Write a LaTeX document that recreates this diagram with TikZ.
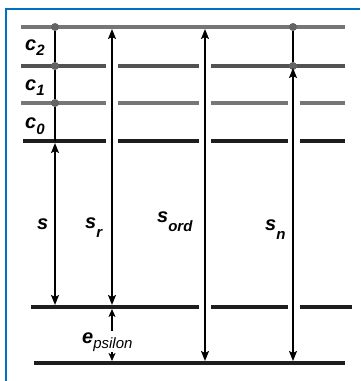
\documentclass[tikz,border=0pt]{standalone}
\usepackage{fontspec}
\setmainfont{Liberation Sans}
\usetikzlibrary{arrows.meta, positioning}
\definecolor{frameblue}{RGB}{0,112,192}
\definecolor{levelgray}{RGB}{118,118,118}
\definecolor{leveldark}{RGB}{82,82,82}
\definecolor{levelblack}{RGB}{30,30,30}
\definecolor{dotgray}{RGB}{100,100,100}
\newcommand{\lowsub}[2]{\raisebox{-#1}{\fontsize{15}{15}\selectfont #2}}

\begin{document}
\begin{tikzpicture}[x=1pt, y=-1pt,
    lvl/.style={line width=4.5pt},
    arr/.style={line width=1.4pt, {Stealth[length=10pt,width=8pt,inset=2pt]}-{Stealth[length=10pt,width=8pt,inset=2pt]}},
    sarr/.style={line width=1.2pt, {Stealth[length=8pt,width=7pt,inset=2pt]}-{Stealth[length=8pt,width=7pt,inset=2pt]}},
    dot/.style={circle, fill=dotgray, inner sep=0pt, minimum size=8pt},
    lab/.style={font=\fontsize{20}{22}\selectfont\bfseries\itshape, inner sep=0pt, anchor=base west}]
    \useasboundingbox (0,0) rectangle (360,381);

    % Frame
    \draw[frameblue, line width=2.5pt] (6,381) -- (6,9) -- (360,9);

    % Levels
    \draw[lvl, levelgray] (21,27) -- (345,27);
    \foreach \a/\b in {21/106, 118/199, 211/345}
        \draw[lvl, leveldark] (\a,66) -- (\b,66);
    \foreach \a/\b in {21/106, 118/199, 211/288, 300/345}
        \draw[lvl, levelgray] (\a,103) -- (\b,103);
    \foreach \a/\b in {23/106, 118/199, 211/288, 300/345}
        \draw[lvl, levelblack] (\a,141) -- (\b,141);
    \foreach \a/\b in {31/199, 211/288, 300/352}
        \draw[lvl, levelblack] (\a,307) -- (\b,307);
    \draw[lvl, levelblack] (34,363) -- (345,363);

    % Dots on the levels
    \node[dot] (d2) at (55,27) {};
    \node[dot] (d1) at (55,66) {};
    \node[dot] (d0) at (55,103) {};
    \node[dot] (n1) at (293,27) {};
    \node[dot] (n0) at (293,66) {};
    \coordinate (c0-base) at (55,141);

    % Arrow end points
    \coordinate (s-top) at (55,143);
    \coordinate (s-bot) at (55,305);
    \coordinate (sr-top) at (112,29);
    \coordinate (sr-bot) at (112,305);
    \coordinate (eps-top) at (112,309);
    \coordinate (eps-bot) at (112,361);
    \coordinate (ord-top) at (205,29);
    \coordinate (ord-bot) at (205,361);
    \coordinate (sn-top) at (293,68);
    \coordinate (sn-bot) at (293,361);

    % Arrows
    \draw[line width=1.4pt] (d2) -- (d1) -- (d0) -- (c0-base);
    \draw[line width=1.4pt] (n1) -- (n0);
    \draw[arr] (s-top) -- (s-bot);
    \draw[arr] (sr-top) -- (sr-bot);
    \draw[sarr] (eps-top) -- (eps-bot);
    \draw[arr] (ord-top) -- (ord-bot);
    \draw[arr] (sn-top) -- (sn-bot);

    % Labels
    \node[lab] (c2) at (25,50) {c\lowsub{5pt}{2}};
    \node[lab] (c1) at (25,90) {c\lowsub{5pt}{1}};
    \node[lab] (c0) at (25,128) {c\lowsub{6pt}{0}};
    \node[lab] (s) at (37,229) {s};
    \node[lab] (sr) at (85,228) {s\lowsub{9pt}{r}};
    \node[lab] (sord) at (157,222) {s\lowsub{9pt}{ord}};
    \node[lab] (sn) at (265,230) {s\lowsub{9pt}{n}};
    \node[lab, fill=white, inner ysep=1pt] (eps) at (82,343) {e\lowsub{5pt}{\mdseries psilon}};
\end{tikzpicture}
\end{document}
